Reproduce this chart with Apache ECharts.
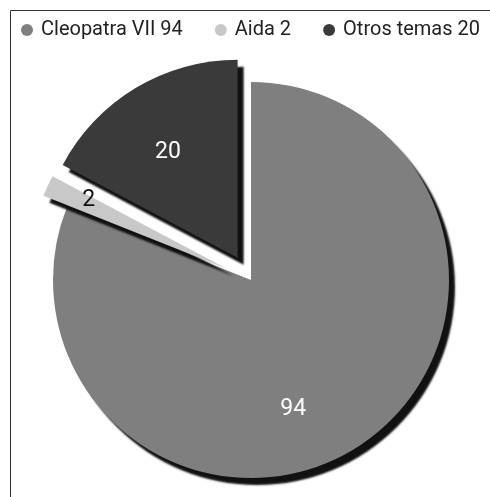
<!DOCTYPE html>
<html>
<head>
<meta charset="utf-8">
<script src="https://cdn.jsdelivr.net/npm/echarts@6/dist/echarts.min.js"></script>
<style>
	html, body { margin: 0; padding: 0; background: #fff; }
	#chart { width: 490px; height: 497px; }
</style>
</head>
<body>
<div id="chart"></div>
<script>
// datos del gráfico
var names = ["Cleopatra VII", "Aida", "Otros temas"];
var values = [94, 2, 20];
var colors = ["#7f7f7f", "#c8c8c8", "#3a3a3a"];
var exploded = [false, true, true];
var labelColors = ["#ffffff", "#111111", "#ffffff"];
// desplazamiento de etiquetas respecto a la posición por defecto
var labelShift = [[-15, 45], [-46, -26], [-17, -18]];

var chart = echarts.init(document.getElementById("chart"));

var pieData = names.map(function(n, i) {
	return {
		name: n,
		value: values[i],
		selected: exploded[i],
		itemStyle: { color: colors[i] },
		label: { color: labelColors[i] }
	};
});

var option = {
	animation: false,
	textStyle: { fontFamily: "Roboto" },
	graphic: [
		{
			type: "rect",
			shape: { x: 10.5, y: 10.5, width: 600, height: 600 },
			style: { fill: "none", stroke: "#333", lineWidth: 1 },
			silent: true
		}
	],
	legend: {
		left: 21,
		top: 20,
		padding: 0,
		icon: "circle",
		itemWidth: 12,
		itemHeight: 12,
		itemGap: 32,
		textStyle: { fontSize: 20, color: "#222", fontFamily: "Roboto", padding: [0, 0, 0, 3] },
		formatter: function(name) {
			return name + " " + values[names.indexOf(name)];
		},
		data: names
	},
	series: [
		{
			type: "pie",
			center: [251, 280],
			radius: 198,
			startAngle: 90,
			clockwise: true,
			selectedMode: "multiple",
			selectedOffset: 26,
			avoidLabelOverlap: false,
			itemStyle: {
				shadowColor: "#111",
				shadowBlur: 2,
				shadowOffsetX: 6,
				shadowOffsetY: 7
			},
			emphasis: { disabled: true },
			label: {
				show: true,
				position: "inside",
				formatter: "{c}",
				fontSize: 23,
				fontFamily: "Roboto"
			},
			labelLine: { show: false },
			labelLayout: function(p) {
				var s = labelShift[p.dataIndex];
				return { dx: s[0], dy: s[1] };
			},
			data: pieData
		}
	]
};
chart.setOption(option);
</script>
</body>
</html>
